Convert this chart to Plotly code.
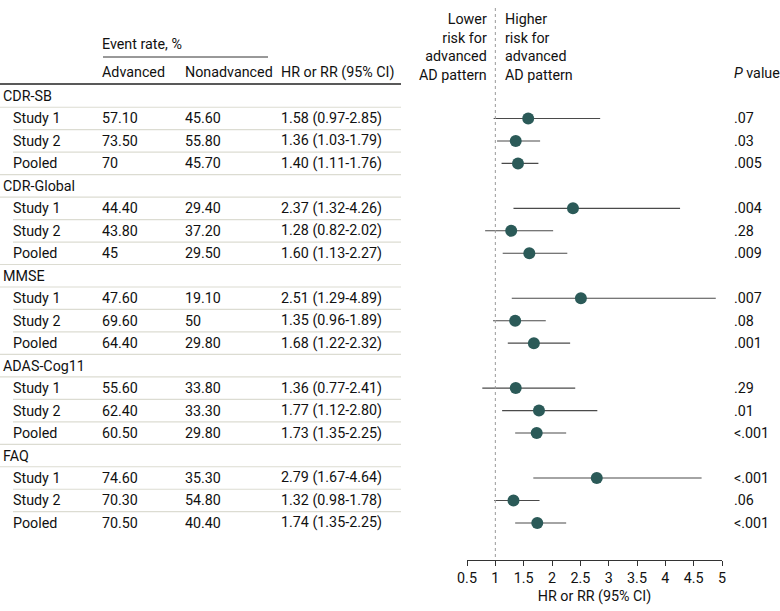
import plotly.graph_objects as go

groups = ["CDR-SB", "CDR-Global", "MMSE", "ADAS-Cog11", "FAQ"]
sub_labels = ["Study 1", "Study 2", "Pooled"]
advanced = ["57.10", "73.50", "70", "44.40", "43.80", "45", "47.60", "69.60", "64.40",
            "55.60", "62.40", "60.50", "74.60", "70.30", "70.50"]
nonadvanced = ["45.60", "55.80", "45.70", "29.40", "37.20", "29.50", "19.10", "50", "29.80",
               "33.80", "33.30", "29.80", "35.30", "54.80", "40.40"]
hr = [1.58, 1.36, 1.40, 2.37, 1.28, 1.60, 2.51, 1.35, 1.68, 1.36, 1.77, 1.73, 2.79, 1.32, 1.74]
lo = [0.97, 1.03, 1.11, 1.32, 0.82, 1.13, 1.29, 0.96, 1.22, 0.77, 1.12, 1.35, 1.67, 0.98, 1.35]
hi = [2.85, 1.79, 1.76, 4.26, 2.02, 2.27, 4.89, 1.89, 2.32, 2.41, 2.80, 2.25, 4.64, 1.78, 2.25]
pvals = [".07", ".03", ".005", ".004", ".28", ".009", ".007", ".08", ".001",
         ".29", ".01", "<.001", "<.001", ".06", "<.001"]
tick_vals = [0.5, 1, 1.5, 2, 2.5, 3, 3.5, 4, 4.5, 5]
tick_text = ["0.5", "1", "1.5", "2", "2.5", "3", "3.5", "4", "4.5", "5"]

W, H = 780, 611
FONT = "Roboto, sans-serif"
FS = 14.3
TXT = "#111111"
ROW_PX = 22.47
ROW0_PX = 96
PLOT_BOTTOM = 560

def px(x):
    return x / W

def row_of(y):
    return (y - ROW0_PX) / ROW_PX

rows = []
r = 0
k = 0
for g in groups:
    rows.append((r, "group", g, None))
    r += 1
    for s in sub_labels:
        rows.append((r, "sub", s, k))
        r += 1
        k += 1
n_rows = r

data_rows = [rr for rr, kind, _, _ in rows if kind == "sub"]

fig = go.Figure()
fig.add_trace(go.Scatter(
    x=hr, y=data_rows, mode="markers",
    marker=dict(size=12, color="#2b5a58"),
    error_x=dict(type="data", symmetric=False,
                 array=[h - m for h, m in zip(hi, hr)],
                 arrayminus=[m - l for m, l in zip(hr, lo)],
                 width=0, thickness=1.1, color="#4a4a4a"),
    hoverinfo="skip", showlegend=False,
))

ann = []
shapes = []

def text(x, y, s, xanchor="left"):
    ann.append(dict(x=px(x), y=y, xref="paper", yref="y", text=s, showarrow=False,
                    xanchor=xanchor, yanchor="middle",
                    font=dict(family=FONT, size=FS, color=TXT)))

COL_LABEL, COL_SUB, COL_ADV, COL_NON, COL_HR, COL_P = 1, 11, 100, 183, 279, 732

for rr, kind, label, di in rows:
    if kind == "group":
        text(COL_LABEL, rr, label)
    else:
        text(COL_SUB, rr, label)
        text(COL_ADV, rr, advanced[di])
        text(COL_NON, rr, nonadvanced[di])
        text(COL_HR, rr, f"{hr[di]:.2f} ({lo[di]:.2f}-{hi[di]:.2f})")
        text(COL_P, rr, pvals[di])
    if rr < n_rows - 1:
        x0 = 13 if (kind == "sub" and label != "Pooled") else 0
        shapes.append(dict(type="line", xref="paper", yref="y",
                           x0=px(x0), x1=px(401), y0=rr + 0.5, y1=rr + 0.5,
                           line=dict(color="#dcdcd2", width=1.2)))

text(COL_ADV, row_of(44), "Event rate, %")
shapes.append(dict(type="line", xref="paper", yref="y", x0=px(103), x1=px(268),
                   y0=row_of(57), y1=row_of(57), line=dict(color="#333333", width=1)))
text(COL_ADV, row_of(72), "Advanced")
text(COL_NON, row_of(72), "Nonadvanced")
text(COL_HR, row_of(72), "HR or RR (95% CI)")
text(COL_P, row_of(73), "<i>P</i> value")
shapes.append(dict(type="line", xref="paper", yref="y", x0=0, x1=px(401),
                   y0=row_of(84), y1=row_of(84), line=dict(color="#222222", width=1.5)))

ann.append(dict(x=px(489), y=row_of(46.5), xref="paper", yref="y",
                text="Lower<br>risk for<br>advanced<br>AD pattern", showarrow=False,
                xanchor="right", yanchor="middle", align="right",
                font=dict(family=FONT, size=FS, color=TXT)))
ann.append(dict(x=px(503), y=row_of(46.5), xref="paper", yref="y",
                text="Higher<br>risk for<br>advanced<br>AD pattern", showarrow=False,
                xanchor="left", yanchor="middle", align="left",
                font=dict(family=FONT, size=FS, color=TXT)))

shapes.append(dict(type="line", xref="x", yref="y", x0=1, x1=1,
                   y0=row_of(8), y1=row_of(PLOT_BOTTOM),
                   line=dict(color="#999999", width=1, dash="dot")))

fig.update_layout(
    width=W, height=H,
    margin=dict(l=0, r=0, t=0, b=(H - PLOT_BOTTOM), autoexpand=False),
    plot_bgcolor="white", paper_bgcolor="white",
    font=dict(family=FONT, size=FS, color=TXT),
    xaxis=dict(domain=[px(467), px(722)], range=[0.5, 5], tickvals=tick_vals, ticktext=tick_text,
               showline=True, linecolor="#333333", linewidth=1, ticks="outside", ticklen=5,
               tickcolor="#333333", showgrid=False, zeroline=False, automargin=False,
               title=dict(text="HR or RR (95% CI)", standoff=5,
                          font=dict(family=FONT, size=FS, color=TXT)),
               tickfont=dict(family=FONT, size=FS, color=TXT), fixedrange=True),
    yaxis=dict(range=[row_of(PLOT_BOTTOM), row_of(0)], visible=False, showgrid=False,
               zeroline=False, fixedrange=True, automargin=False),
    annotations=ann, shapes=shapes,
)

fig.write_html("out.html", config={"displayModeBar": False},
               post_script="document.body.style.margin='0';")
